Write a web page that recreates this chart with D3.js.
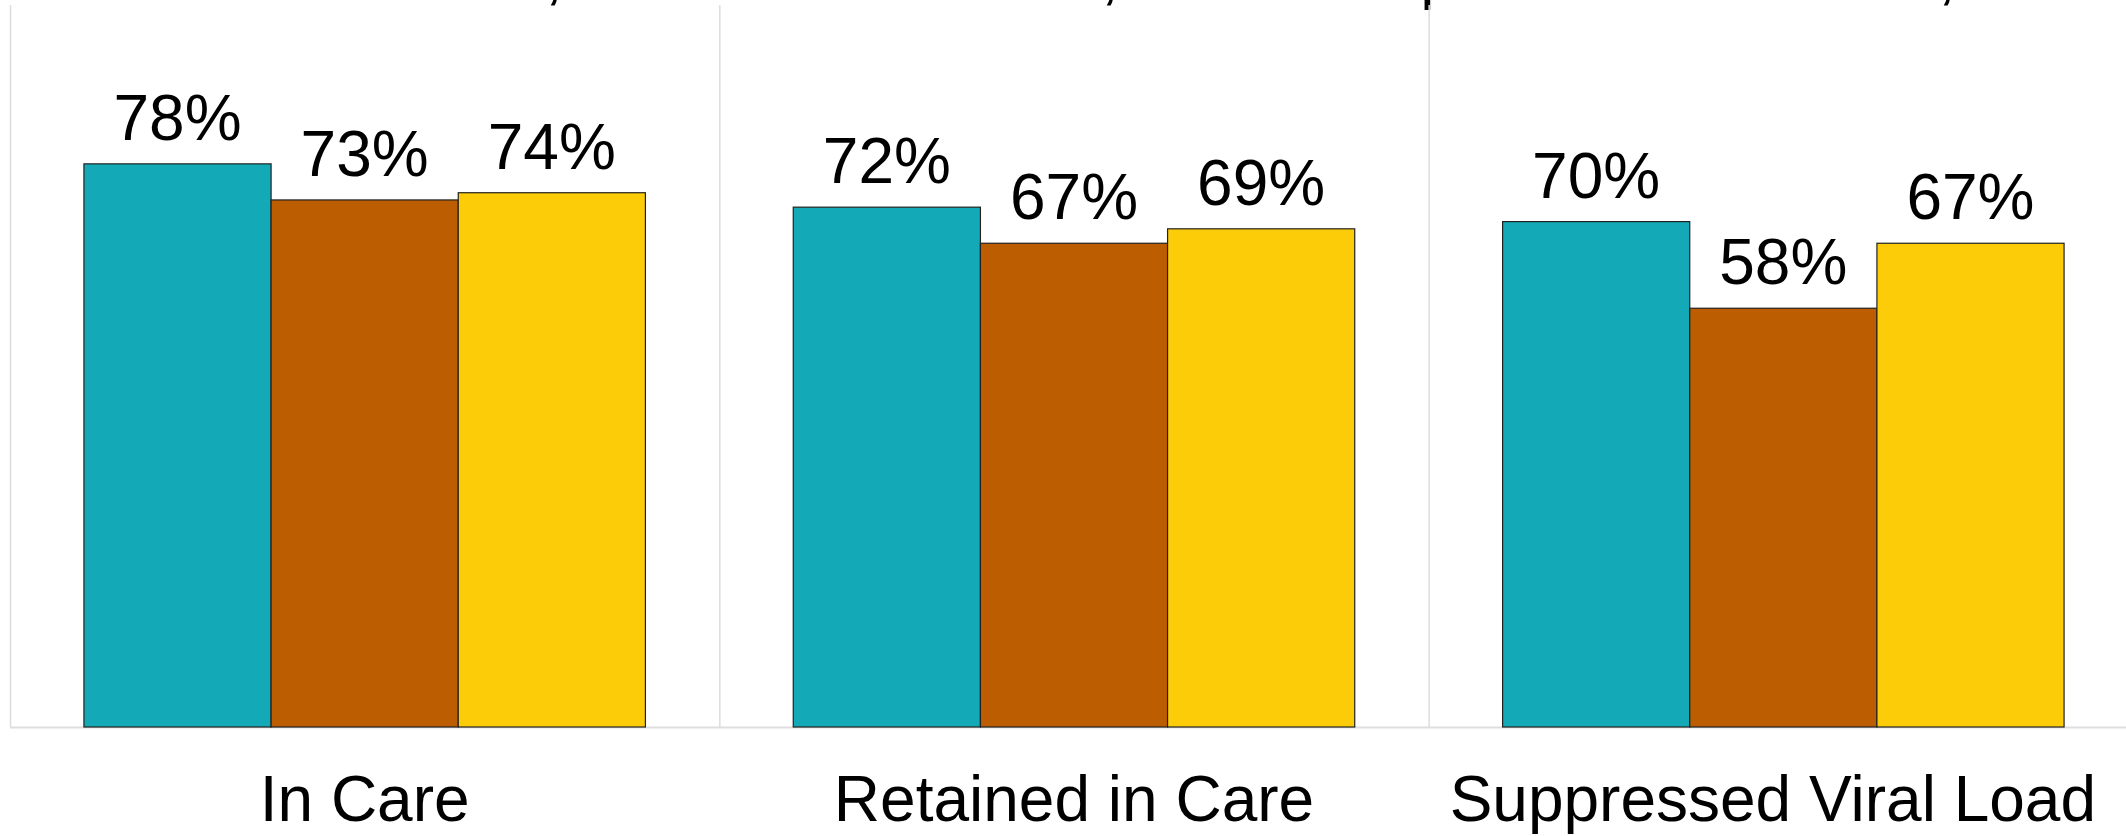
<!DOCTYPE html>
<html>
<head>
<meta charset="utf-8">
<script src="https://cdn.jsdelivr.net/npm/d3@7"></script>
<style>
  html, body { margin: 0; padding: 0; background: #ffffff; }
  svg { display: block; }
  text { font-family: "Liberation Sans", Arial, sans-serif; }
</style>
</head>
<body>
<svg id="chart" width="2126" height="836"></svg>
<script>
// ---- data ----
const categories = ["In Care", "Retained in Care", "Suppressed Viral Load"];
const seriesNames = ["Group A", "Group B", "Group C"];
const seriesA = [78, 72, 70];
const seriesB = [73, 67, 58];
const seriesC = [74, 69, 67];
const seriesColors = ["#14a9b7", "#bb5d00", "#fdcc08"];
const yDomain = [0, 100];

// ---- layout ----
const W = 2126, H = 836;
const plotLeft = 10, plotRight = 2138, plotTop = 5, plotBottom = 727;
const svg = d3.select("#chart");

const x0 = d3.scaleBand().domain(categories).range([plotLeft, plotRight]).padding(0);
const x1 = d3.scaleBand().domain(seriesNames).range([0, x0.bandwidth()])
  .paddingInner(0).paddingOuter(0.395);
const y = d3.scaleLinear().domain(yDomain).range([plotBottom, plotTop]);
const color = d3.scaleOrdinal().domain(seriesNames).range(seriesColors);

const rows = categories.map((c, i) => ({
  cat: c,
  vals: [seriesA[i], seriesB[i], seriesC[i]].map((v, j) => ({ s: seriesNames[j], v }))
}));

// clipped title fragments (only descenders visible at the top edge, as in the source)
const topFrag = svg.append("g").attr("font-size", 64).attr("fill", "#000");
[[554, ","], [1110, ","], [1438, "p"], [1947, ","]].forEach(([fx, t]) => {
  topFrag.append("text").attr("x", fx).attr("y", -3).attr("text-anchor", "middle").text(t);
});

// panel separators
const sepG = svg.append("g");
categories.forEach(c => {
  sepG.append("line")
    .attr("x1", x0(c) + 0.5).attr("x2", x0(c) + 0.5)
    .attr("y1", y(yDomain[1])).attr("y2", y(0))
    .attr("stroke", "#dcdcdc").attr("stroke-width", 1.5);
});

// baseline
svg.append("line")
  .attr("x1", plotLeft).attr("x2", W)
  .attr("y1", y(0) + 0.5).attr("y2", y(0) + 0.5)
  .attr("stroke", "#dedede").attr("stroke-width", 2);

// bars
const groups = svg.selectAll("g.cat").data(rows).join("g")
  .attr("class", "cat")
  .attr("transform", d => `translate(${x0(d.cat)},0)`);

groups.selectAll("rect").data(d => d.vals).join("rect")
  .attr("x", d => x1(d.s))
  .attr("y", d => y(d.v))
  .attr("width", x1.bandwidth())
  .attr("height", d => y(0) - y(d.v))
  .attr("fill", d => color(d.s))
  .attr("stroke", "#222")
  .attr("stroke-width", 1.2);

groups.selectAll("text.val").data(d => d.vals).join("text")
  .attr("class", "val")
  .attr("x", d => x1(d.s) + x1.bandwidth() / 2)
  .attr("y", d => y(d.v) - 24)
  .attr("text-anchor", "middle")
  .attr("font-size", 64)
  .attr("fill", "#000")
  .text(d => d.v + "%");

// category labels
const xAxis = d3.axisBottom(x0).tickSize(0).tickPadding(0);
const axG = svg.append("g").attr("transform", `translate(0,${plotBottom})`).call(xAxis);
axG.select(".domain").remove();
axG.selectAll("text")
  .attr("font-family", "Liberation Sans, Arial, sans-serif")
  .attr("font-size", 64)
  .attr("fill", "#000")
  .attr("dy", 0)
  .attr("y", 94);
// keep labels inside the visible width
axG.selectAll(".tick").each(function() {
  const t = d3.select(this).select("text");
  const bb = this.getBBox();
  const m = this.transform.baseVal.consolidate().matrix;
  const right = m.e + bb.x + bb.width;
  const limit = W - 30;
  if (right > limit) t.attr("x", limit - right);
});
</script>
</body>
</html>
